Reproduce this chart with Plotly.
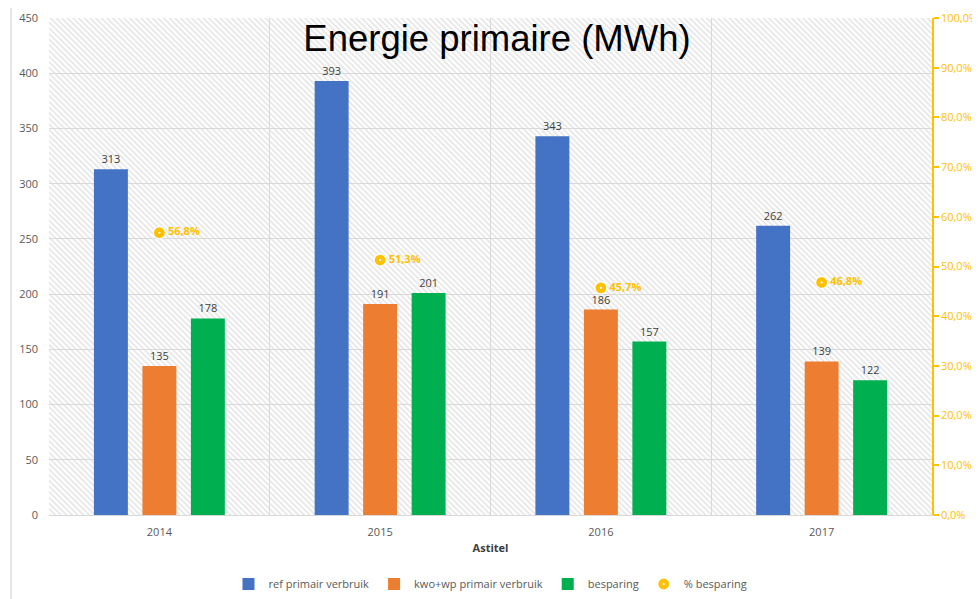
import base64
import plotly.graph_objects as go

# ---- data ----
years = ["2014", "2015", "2016", "2017"]
ref_primair = [313, 393, 343, 262]
kwo_wp_primair = [135, 191, 186, 139]
besparing = [178, 201, 157, 122]
pct_besparing = [0.568, 0.513, 0.457, 0.468]

series_names = ["ref primair verbruik", "kwo+wp primair verbruik", "besparing", "% besparing"]
colors = ["#4472C4", "#ED7D31", "#00B050", "#FFC000"]

OFF = 8  # page body margin
W, H = 980 - OFF, 599 - OFF
ML, MT = 49 - OFF, 18 - OFF
MR = W - (932 - OFF)
MB = H - (515 - OFF)
PW, PH = W - ML - MR, H - MT - MB

# hatched plot background (decoration)
svg = f'''<svg xmlns="http://www.w3.org/2000/svg" width="{PW}" height="{PH}">
<defs><pattern id="h" width="4" height="4" patternUnits="userSpaceOnUse" patternTransform="rotate(-45)">
<line x1="1" y1="0" x2="1" y2="4" stroke="#dedede" stroke-width="1.3"/></pattern></defs>
<rect width="{PW}" height="{PH}" fill="#ffffff"/>
<rect width="{PW}" height="{PH}" fill="url(#h)"/></svg>'''
svg_uri = "data:image/svg+xml;base64," + base64.b64encode(svg.encode()).decode()

font_main = "Open Sans, Noto Sans, sans-serif"
txt_col = "#595959"

fig = go.Figure()
for name, vals, col in zip(series_names[:3], [ref_primair, kwo_wp_primair, besparing], colors[:3]):
    fig.add_trace(go.Bar(
        x=years, y=vals, name=name, marker=dict(color=col, line=dict(width=0)),
        text=[str(v) for v in vals], textposition="outside",
        textfont=dict(size=11, color="#404040", family=font_main),
        cliponaxis=False, yaxis="y",
    ))

fig.add_trace(go.Scatter(
    x=years, y=pct_besparing, name=series_names[3], yaxis="y2",
    mode="markers+text",
    marker=dict(symbol="circle-dot", size=12, color=colors[3], line=dict(color="white", width=1.2)),
    text=[f"{v*100:.1f}%".replace(".", ",") for v in pct_besparing],
    textposition="middle right",
    textfont=dict(size=11, color=colors[3], family=font_main, weight="bold"),
    cliponaxis=False,
))

fig.update_layout(
    width=W, height=H,
    margin=dict(l=ML, r=MR, t=MT, b=MB, pad=0, autoexpand=False),
    paper_bgcolor="white", plot_bgcolor="rgba(0,0,0,0)",
    separators=",.",
    barmode="group", bargap=0.341, bargroupgap=0.30,
    font=dict(family=font_main, size=11, color=txt_col),
    title=dict(text="Energie primaire (MWh)", x=(497 - OFF) / W, xanchor="center",
               y=1 - (38 - OFF) / H, yanchor="middle", yref="container", automargin=False,
               font=dict(family="Liberation Sans, Arial, sans-serif", size=36.5, color="#000000")),
    xaxis=dict(type="category", tickson="boundaries", showgrid=True, gridcolor="#d9d9d9",
               gridwidth=1, showline=True, linecolor="#d9d9d9", linewidth=1, ticks="",
               automargin=False, ticklabelstandoff=7, tickfont=dict(size=11, color=txt_col),
               title=dict(text="<b>Astitel</b>", font=dict(size=11, color="#404040"), standoff=6)),
    yaxis=dict(range=[0, 450], dtick=50, showgrid=True, gridcolor="#d9d9d9", gridwidth=1,
               zeroline=False, showline=False, ticks="", ticklabelstandoff=10, automargin=False,
               tickfont=dict(size=11, color=txt_col)),
    yaxis2=dict(range=[0, 1], dtick=0.1, tickformat=".1%", overlaying="y", side="right",
                showgrid=False, zeroline=False, showline=True, linecolor=colors[3], linewidth=1.5,
                ticks="outside", ticklen=5, tickcolor=colors[3], tickwidth=1.5, automargin=False,
                tickfont=dict(size=11, color=colors[3])),
    legend=dict(orientation="h", x=0.5, xanchor="center", y=-(584 - 515) / PH, yanchor="middle",
                font=dict(size=11, color=txt_col), bgcolor="rgba(0,0,0,0)", traceorder="normal",
                itemwidth=30),
    images=[dict(source=svg_uri, xref="paper", yref="paper", x=0, y=1, sizex=1, sizey=1,
                 xanchor="left", yanchor="top", sizing="stretch", layer="below")],
    shapes=[dict(type="line", xref="paper", yref="paper", x0=-(49 - 11) / PW, x1=-(49 - 11) / PW,
                 y0=1 + (18 - 8) / PH, y1=-MB / PH, line=dict(color="#e6e6e6", width=2))],
)

fig.write_html("out.html")
